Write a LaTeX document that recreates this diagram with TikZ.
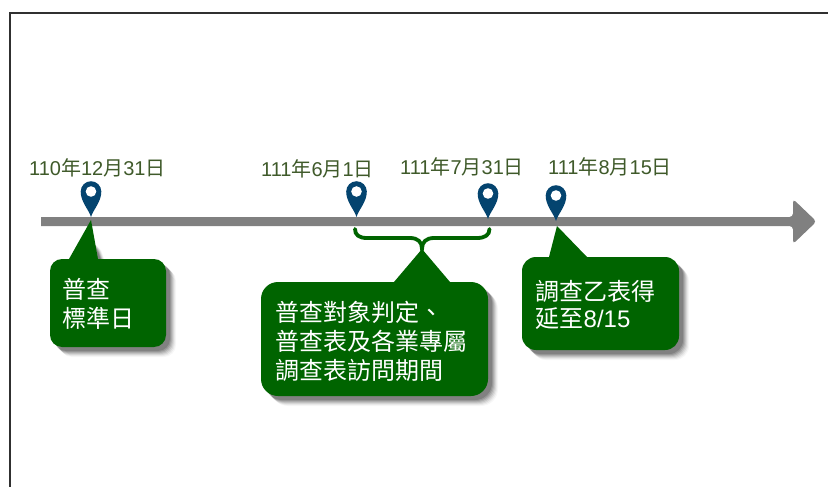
\documentclass[tikz,border=0pt]{standalone}
\usepackage{fontspec}
\setmainfont{Liberation Sans}
\newfontfamily\cjk{Noto Sans CJK TC}
\usetikzlibrary{decorations.pathreplacing}
\definecolor{boxgreen}{HTML}{006400}
\definecolor{labelgreen}{HTML}{3F5A2A}
\definecolor{pinblue}{HTML}{04446F}
\definecolor{bargray}{HTML}{808080}
\definecolor{framegray}{HTML}{303030}
\tikzset{
  x=1pt,y=-1pt,
  datelabel/.style={anchor=base west,inner sep=0pt,text=labelgreen,font=\fontsize{20}{23}\selectfont},
  calloutfill/.style={fill=boxgreen,draw=none},
  callouttext/.style={anchor=north west,inner sep=0pt,text=white,align=left,font=\fontsize{24}{29}\selectfont},
}
% x0,y0,x1,y1,r, base a, base b, tip x, tip y
\newcommand{\calloutpath}[9]{
  (#1+#5,#2) -- (#6,#2) -- (#8,#9) -- (#7,#2) -- (#3-#5,#2)
  arc[start angle=90,end angle=0,x radius=#5,y radius=-#5]
  -- (#3,#4-#5) arc[start angle=0,end angle=-90,x radius=#5,y radius=-#5]
  -- (#1+#5,#4) arc[start angle=270,end angle=180,x radius=#5,y radius=-#5]
  -- (#1,#2+#5) arc[start angle=180,end angle=90,x radius=#5,y radius=-#5] -- cycle
}
\newcommand{\boxshadow}[1]{
  \foreach \d/\o in {10/0.03,9/0.05,8/0.07,7/0.09,6/0.11,5/0.13,4/0.15}{
    \begin{scope}[shift={(\d,\d)}]
      \fill[black,opacity=\o] #1;
    \end{scope}
  }
}
\newcommand{\mappin}[3]{% x, tip y, top y
  \fill[pinblue]
    (#1,#2) .. controls (#1-2.5,#2-8) and (#1-10.3,#2-15) .. (#1-10.3,#2-25.5)
    arc[start angle=180,end angle=0,x radius=10.3,y radius=-10.3]
    .. controls (#1+10.3,#2-15) and (#1+2.5,#2-8) .. (#1,#2) -- cycle;
  \fill[white] (#1,#2-25.5) circle[radius=5.3];
}
\begin{document}
\begin{tikzpicture}
\useasboundingbox (0,0) rectangle (828,487);
\fill[white] (0,0) rectangle (828,487);
\draw[line width=2pt,draw=framegray] (9.8,487) -- (9.8,13) -- (828,13);

% timeline with arrow head
\fill[bargray,rounded corners=3.5pt] (30,217) -- (793,217) -- (793,199) -- (816.5,221.5) -- (793,244) -- (793,226) -- (30,226) -- cycle;
\fill[white] (28,215) rectangle (41,228);

% pins
\mappin{91}{217}{181}
\mappin{356.5}{217}{180}
\mappin{488}{219}{183}
\mappin{556}{221}{184}

% date labels
\node[datelabel] (d1) at (29,175) {110{\cjk 年}12{\cjk 月}31{\cjk 日}};
\node[datelabel] (d2) at (261,176) {111{\cjk 年}6{\cjk 月}1{\cjk 日}};
\node[datelabel] (d3) at (400,174.5) {111{\cjk 年}7{\cjk 月}31{\cjk 日}};
\node[datelabel] (d4) at (548,174.5) {111{\cjk 年}8{\cjk 月}15{\cjk 日}};

% brace
\coordinate (bl) at (355,229);
\coordinate (br) at (489.5,229);
\coordinate (bt) at (422,249);
\draw[boxgreen,line width=3.8pt,line cap=round]
  (bl) .. controls (355,235) and (359,238) .. (367,238)
  -- (410,238) .. controls (418,238) and (422,242) .. (bt)
  .. controls (422,242) and (426,238) .. (434,238)
  -- (477,238) .. controls (485,238) and (489.5,235) .. (br);

% callouts
\boxshadow{\calloutpath{50}{259}{166}{347}{12}{69}{98}{91}{240}}
\fill[calloutfill] \calloutpath{50}{259}{166}{347}{12}{69}{98}{91}{220};
\node[callouttext] (c1) at (62,278) {\cjk 普查\\\cjk 標準日};

\boxshadow{\calloutpath{261}{282}{488}{396}{17}{394}{450}{422}{262}}
\fill[calloutfill] \calloutpath{261}{282}{488}{396}{17}{394}{450}{422}{249};
\node[callouttext] (c2) at (275.5,300.5) {\cjk 普查對象判定、\\\cjk 普查表及各業專屬\\\cjk 調查表訪問期間};

\boxshadow{\calloutpath{522}{257}{679}{350}{14}{549}{587}{557}{236}}
\fill[calloutfill] \calloutpath{522}{257}{679}{350}{14}{549}{587}{557}{226};
\node[callouttext,font=\fontsize{24}{27}\selectfont] (c3) at (535.5,280) {{\cjk 調查乙表得}\\{\cjk 延至}8/15};
\end{tikzpicture}
\end{document}
